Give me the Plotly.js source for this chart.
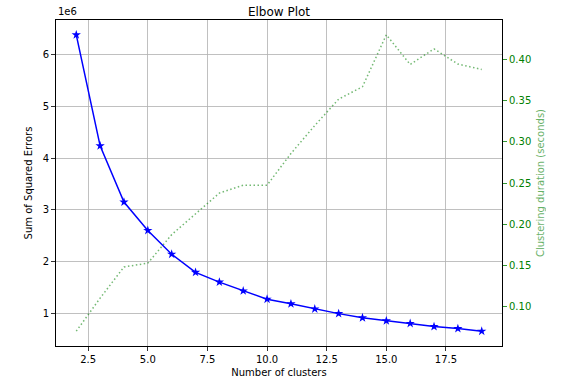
<!DOCTYPE html>
<html>
<head>
<meta charset="utf-8">
<script src="https://cdn.plot.ly/plotly-3.0.1.min.js"></script>
<style>html,body{margin:0;padding:0;background:#fff;}#chart{width:565px;height:391px;}</style>
</head>
<body>
<div id="chart"></div>
<script>
const clusters = [2, 3, 4, 5, 6, 7, 8, 9, 10, 11, 12, 13, 14, 15, 16, 17, 18, 19];
const sse = [6390000, 4240000, 3150000, 2600000, 2140000, 1790000, 1600000, 1430000, 1270000, 1180000, 1080000, 990000, 910000, 850000, 800000, 740000, 700000, 650000];
const duration = [0.0705, 0.1106, 0.1484, 0.1530, 0.1876, 0.2125, 0.2380, 0.2476, 0.2476, 0.2860, 0.3200, 0.3520, 0.3670, 0.4300, 0.3940, 0.4130, 0.3945, 0.3880];
const sseTicks = [1000000, 2000000, 3000000, 4000000, 5000000, 6000000];
const sseTickText = ['1', '2', '3', '4', '5', '6'];

function padRange(arr) {
  const mn = Math.min(...arr), mx = Math.max(...arr);
  const p = (mx - mn) * 0.05;
  return [mn - p, mx + p];
}

const font = {family: 'DejaVu Sans', size: 10, color: '#000'};
const green = '#008000';

const traces = [
  {
    x: clusters, y: sse, type: 'scatter', mode: 'lines+markers',
    line: {color: '#0000ff', width: 1.5},
    marker: {symbol: 'star', size: 7, color: '#0000ff'},
    xaxis: 'x', yaxis: 'y', showlegend: false
  },
  {
    x: clusters, y: duration, type: 'scatter', mode: 'lines',
    line: {color: 'rgba(0,128,0,0.55)', width: 1.5, dash: '1.5px,2.5px'},
    xaxis: 'x', yaxis: 'y2', showlegend: false
  }
];

const layout = {
  width: 565, height: 391,
  margin: {l: 56, r: 63, t: 20, b: 45},
  paper_bgcolor: '#fff', plot_bgcolor: '#fff',
  font: font,
  title: {text: 'Elbow Plot', font: {family: 'DejaVu Sans', size: 12, color: '#000'},
          x: 0.5, xref: 'paper', xanchor: 'center', y: 1, yref: 'paper', yanchor: 'bottom', pad: {b: 4}},
  xaxis: {
    range: padRange(clusters), tick0: 0, dtick: 2.5, tickformat: '.1f',
    showgrid: true, gridcolor: '#b0b0b0', gridwidth: 0.8, zeroline: false,
    showline: true, linecolor: '#000', linewidth: 1, mirror: true,
    ticks: 'outside', ticklen: 4, tickcolor: '#000', tickwidth: 0.8,
    tickfont: font,
    title: {text: 'Number of clusters', font: font, standoff: 4}
  },
  yaxis: {
    range: padRange(sse), tickvals: sseTicks, ticktext: sseTickText,
    showgrid: true, gridcolor: '#b0b0b0', gridwidth: 0.8, zeroline: false,
    showline: true, linecolor: '#000', linewidth: 1, mirror: true,
    ticks: 'outside', ticklen: 4, tickcolor: '#000', tickwidth: 0.8,
    tickfont: font,
    title: {text: 'Sum of Squared Errors', font: font, standoff: 8}
  },
  yaxis2: {
    overlaying: 'y', side: 'right', anchor: 'x',
    range: padRange(duration), dtick: 0.05, tick0: 0, tickformat: '.2f',
    showgrid: false, zeroline: false,
    showline: true, linecolor: '#000', linewidth: 1,
    ticks: 'outside', ticklen: 4, tickcolor: green, tickwidth: 0.8,
    tickfont: {family: 'DejaVu Sans', size: 10, color: green},
    title: {text: 'Clustering duration (seconds)', font: {family: 'DejaVu Sans', size: 10, color: 'rgba(0,128,0,0.6)'}, standoff: 6}
  },
  annotations: [
    {text: '1e6', xref: 'paper', yref: 'paper', x: 0, y: 1, xanchor: 'left', yanchor: 'bottom',
     showarrow: false, font: font, yshift: 1}
  ]
};

Plotly.newPlot('chart', traces, layout, {staticPlot: true, displayModeBar: false});
</script>
</body>
</html>
